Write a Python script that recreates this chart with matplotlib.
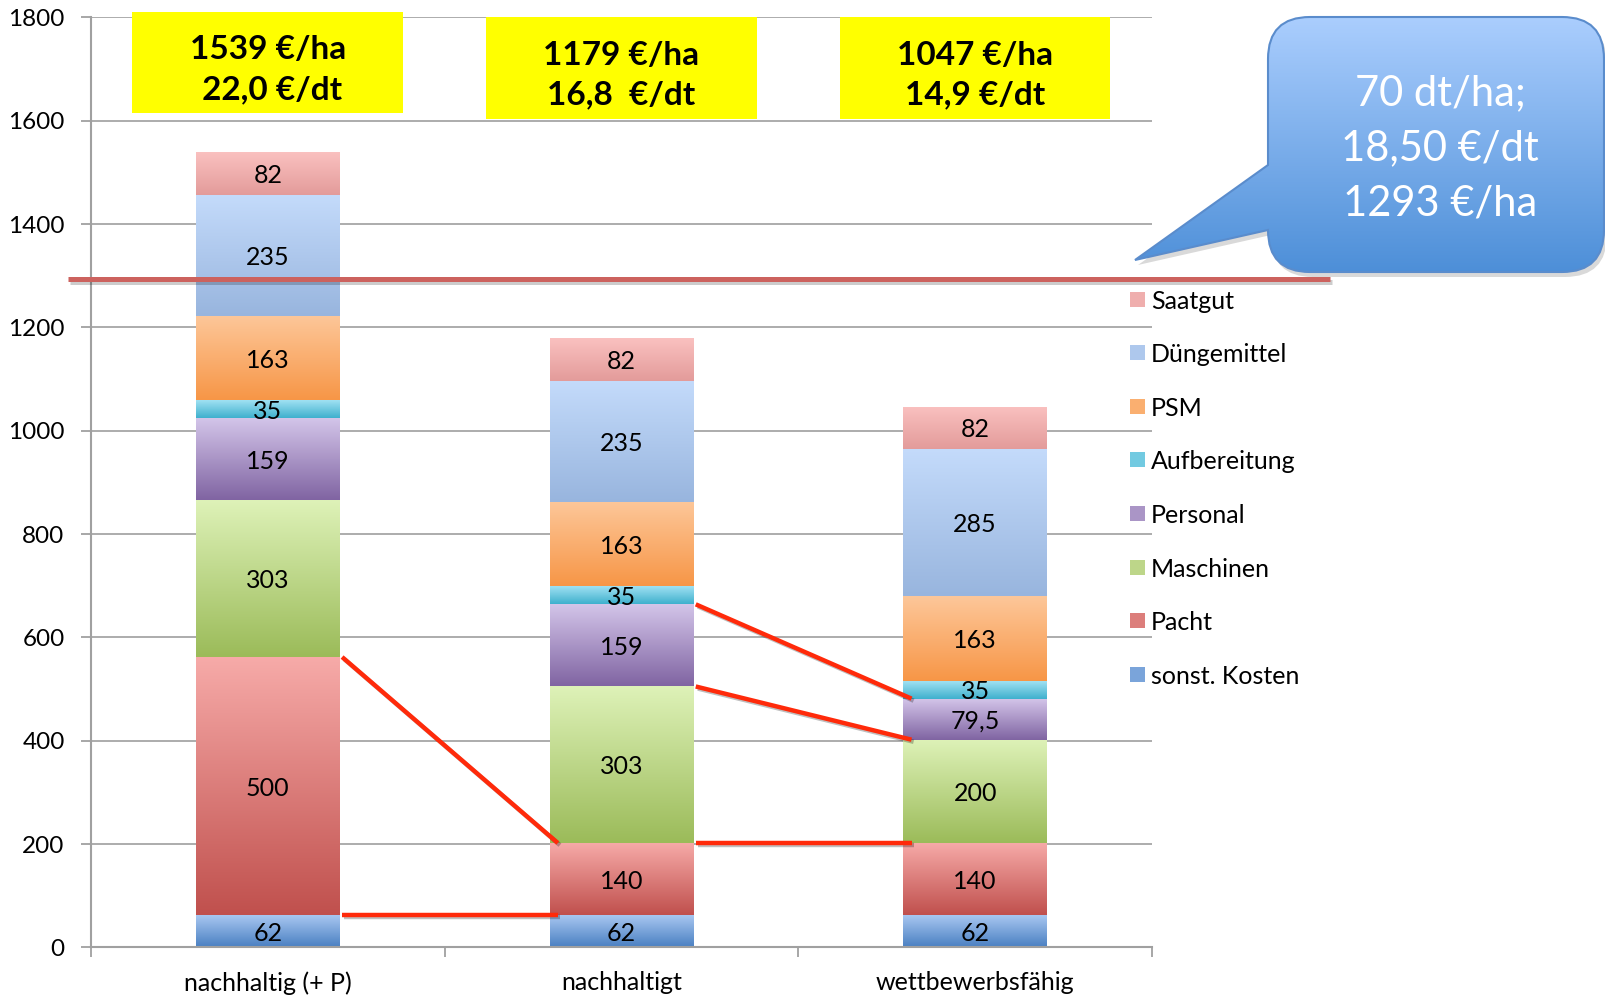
import numpy as np
import matplotlib.pyplot as plt
from matplotlib.patches import Rectangle, PathPatch
from matplotlib.path import Path
from matplotlib.colors import LinearSegmentedColormap, to_rgb
import matplotlib.patheffects as pe

plt.rcParams['font.family'] = ['Lato', 'DejaVu Sans']

# data (values per cost block, bottom to top of stack)
categories = ['nachhaltig (+ P)', 'nachhaltigt', 'wettbewerbsfähig']
components = ['sonst. Kosten', 'Pacht', 'Maschinen', 'Personal',
              'Aufbereitung', 'PSM', 'Düngemittel', 'Saatgut']
sonst = [62, 62, 62]
pacht = [500, 140, 140]
maschinen = [303, 303, 200]
personal = [159, 159, 79.5]
aufbereitung = [35, 35, 35]
psm = [163, 163, 163]
duenger = [235, 235, 285]
saatgut = [82, 82, 82]
series = [sonst, pacht, maschinen, personal, aufbereitung, psm, duenger, saatgut]

box_texts = ['1539 €/ha\n 22,0 €/dt', '1179 €/ha\n16,8  €/dt', '1047 €/ha\n14,9 €/dt']
target_cost = 1293
callout_text = '70 dt/ha;\n18,50 €/dt\n1293 €/ha'
# (from bar, to bar, stack boundary index)
connectors = [(0, 1, 1), (0, 1, 2), (1, 2, 2), (1, 2, 4), (1, 2, 3)]

# gradient colours (top, bottom)
colors = {
    'sonst. Kosten': ('#abc9f2', '#4a80c2'),
    'Pacht': ('#f7aba9', '#c0504d'),
    'Maschinen': ('#def2b8', '#9bbb59'),
    'Personal': ('#d4c6ea', '#8064a2'),
    'Aufbereitung': ('#a6e4f5', '#3eb0cd'),
    'PSM': ('#fdc79a', '#f79646'),
    'Düngemittel': ('#c4dbfb', '#98b5de'),
    'Saatgut': ('#fac1c0', '#e39b9a'),
}


def fmt(v):
    return f'{v:g}'.replace('.', ',')


fig = plt.figure(figsize=(16.06, 9.97), dpi=100)
ax = fig.add_axes([91 / 1606, 1 - 947.4 / 997, (1152 - 91) / 1606, (947.4 - 17.4) / 997])

x = np.arange(len(categories))
width = 0.406
grad = np.linspace(0, 1, 256).reshape(-1, 1)
bottom = np.zeros(len(categories))
bounds = [bottom.copy()]
for name, vals in zip(components, series):
    top_c, bot_c = colors[name]
    cmap = LinearSegmentedColormap.from_list(name, [bot_c, top_c])
    bars = ax.bar(x, vals, width, bottom=bottom, color=bot_c, edgecolor='none', zorder=2)
    for bar, v in zip(bars, vals):
        x0, y0 = bar.get_x(), bar.get_y()
        w, h = bar.get_width(), bar.get_height()
        im = ax.imshow(grad, cmap=cmap, extent=[x0, x0 + w, y0, y0 + h],
                       origin='lower', aspect='auto', zorder=2.1)
        im.set_clip_path(bar)
        ax.text(x0 + w / 2, y0 + h / 2, fmt(v), ha='center', va='center_baseline',
                fontsize=18, color='black', zorder=4)
    bottom = bottom + np.array(vals)
    bounds.append(bottom.copy())

ax.set_xlim(-0.5, 2.5)
ax.set_ylim(0, 1800)

# connector lines between bars
shadow = [pe.SimpleLineShadow(offset=(1.5, -1.5), alpha=0.25), pe.Normal()]
for a, b, k in connectors:
    ax.plot([a + 0.21, b - 0.18], [bounds[k][a], bounds[k][b]], color='#ff2a0a',
            lw=3.2, solid_capstyle='butt', zorder=5, path_effects=shadow)

# target cost line
ax.plot([-0.565, 3.003], [target_cost, target_cost], color='#cc625e', lw=3.6,
        clip_on=False, zorder=5, solid_capstyle='butt',
        path_effects=[pe.SimpleLineShadow(offset=(1.5, -2), alpha=0.2), pe.Normal()])

# yellow summary boxes
box_bottoms = [1615, 1604, 1604]
box_tops = [1810, 1800, 1800]
for i, t in enumerate(box_texts):
    ax.add_patch(Rectangle((i - 0.383, box_bottoms[i]), 0.765, box_tops[i] - box_bottoms[i],
                           facecolor='#ffff00', edgecolor='none', clip_on=False, zorder=3))
    ax.text(i, (box_bottoms[i] + box_tops[i]) / 2 - 14, t, ha='center', va='center',
            fontsize=24, fontweight='bold', linespacing=1.45, zorder=4)

# axes styling
ax.set_yticks(np.arange(0, 1801, 200))
ax.set_xticks([-0.5, 0.5, 1.5, 2.5])
ax.set_xticklabels([])
ax.set_xticks(x, minor=True)
ax.set_xticklabels(categories, minor=True)
ax.tick_params(axis='x', which='major', length=7, width=1.3, color='#a0a0a0')
ax.tick_params(axis='x', which='minor', length=0, labelsize=18, pad=17)
ax.tick_params(axis='y', length=7, width=1.3, color='#a0a0a0', labelsize=17.5, pad=12)
ax.yaxis.grid(True, color='#a6a6a6', lw=1.3)
ax.set_axisbelow(True)
for s in ['top', 'right']:
    ax.spines[s].set_visible(False)
for s in ['left', 'bottom']:
    ax.spines[s].set_color('#a0a0a0')
    ax.spines[s].set_linewidth(1.5)

# overlay in pixel coordinates for callout and legend
ov = fig.add_axes([0, 0, 1, 1], zorder=10)
ov.axis('off')
ov.patch.set_alpha(0)

L, R, T, B, r = 1268, 1604, 17, 272, 42
tip = (1135, 260)
verts = [(L + r, T), (R - r, T), (R, T), (R, T + r), (R, B - r), (R, B), (R - r, B),
         (L + r, B), (L, B), (L, B - r), (L, 230), tip, (L, 165), (L, T + r), (L, T), (L + r, T),
         (L + r, T)]
codes = [Path.MOVETO, Path.LINETO, Path.CURVE3, Path.CURVE3, Path.LINETO, Path.CURVE3, Path.CURVE3,
         Path.LINETO, Path.CURVE3, Path.CURVE3, Path.LINETO, Path.LINETO, Path.LINETO, Path.LINETO,
         Path.CURVE3, Path.CURVE3, Path.CLOSEPOLY]
bubble = Path(verts, codes)
shadow_path = Path([(vx + 3, vy + 5) for vx, vy in verts], codes)
ov.add_patch(PathPatch(shadow_path, facecolor='#000000', edgecolor='none', alpha=0.15, zorder=1))
clip = PathPatch(bubble, facecolor='none', edgecolor='none', zorder=1)
ov.add_patch(clip)
bcmap = LinearSegmentedColormap.from_list('bubble', ['#4d8fd8', '#abcefe'])
bim = ov.imshow(grad, cmap=bcmap, extent=[1130, 1606, 272, 17], origin='lower',
                aspect='auto', zorder=2)
bim.set_clip_path(clip)
ov.add_patch(PathPatch(bubble, facecolor='none', edgecolor='#5a8ccc', lw=1.5, zorder=3))
ov.set_xlim(0, 1606)
ov.set_ylim(997, 0)
ov.text(1440, 148, callout_text, ha='center', va='center', fontsize=30, color='white',
        linespacing=1.55, zorder=4)

# legend (top of stack first)
for i, name in enumerate(components[::-1]):
    yc = 299 + i * 53.6
    top_c, bot_c = colors[name]
    mid = tuple((np.array(to_rgb(top_c)) + np.array(to_rgb(bot_c))) / 2)
    ov.add_patch(Rectangle((1130, yc - 7.5), 15, 15, facecolor=mid, edgecolor='none'))
    ov.text(1151, yc, name, ha='left', va='center_baseline', fontsize=18, color='black')

fig.savefig('out.png', dpi=100)
